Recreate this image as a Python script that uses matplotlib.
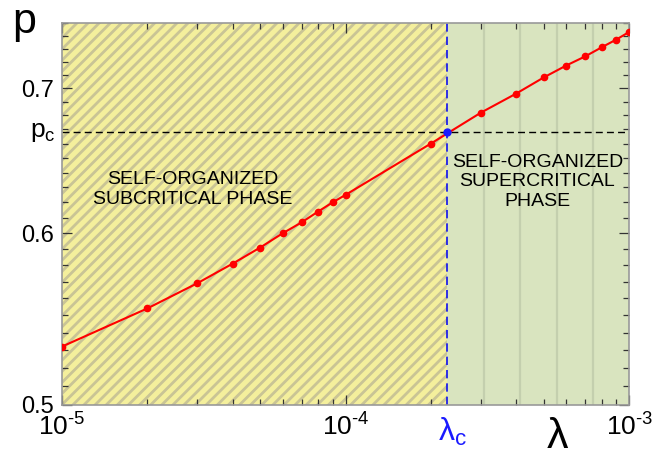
import matplotlib
matplotlib.use("Agg")
import matplotlib.pyplot as plt
import matplotlib.transforms as mtransforms
from matplotlib.ticker import FixedLocator, MultipleLocator, NullFormatter
import numpy as np

# order parameter p vs lambda, subcritical / supercritical phases
lam = [1e-5, 2e-5, 3e-5, 4e-5, 5e-5, 6e-5, 7e-5, 8e-5, 9e-5, 1e-4,
       2e-4, 3e-4, 4e-4, 5e-4, 6e-4, 7e-4, 8e-4, 9e-4, 1e-3]
p = [0.532, 0.554, 0.569, 0.581, 0.591, 0.600, 0.607, 0.614, 0.620, 0.625,
     0.660, 0.682, 0.696, 0.708, 0.717, 0.724, 0.731, 0.737, 0.743]
lam_c = 2.28e-4
p_c = 0.668
xticks = [1e-5, 1e-4, 1e-3]
xlabels = ['$10^{\u20105}$', '$10^{\u20104}$', '$10^{\u20103}$']
yticks = [0.5, 0.6, 0.7]
ylabels = ['0.5', '0.6', '0.7']

plt.rcParams['font.family'] = ['Liberation Sans', 'DejaVu Sans']
plt.rcParams['mathtext.fontset'] = 'custom'
plt.rcParams['mathtext.rm'] = 'Liberation Sans'
plt.rcParams['mathtext.it'] = 'Liberation Sans'
plt.rcParams['mathtext.default'] = 'regular'
plt.rcParams['hatch.linewidth'] = 2.0

fig = plt.figure(figsize=(6.54, 4.63), dpi=100)
ax = fig.add_axes([0.0948, 0.1253, 0.8672, 0.8247])
ax.set_xscale('log')
ax.set_yscale('log')
ax.set_xlim(1e-5, 1e-3)
ax.set_ylim(0.5, 0.75)

# background phases
ax.axvspan(1e-5, lam_c, facecolor='#f4ef9c', edgecolor='#c9c495',
           hatch='///', linewidth=0, zorder=0)
ax.axvspan(lam_c, 1e-3, facecolor='#d9e4bf', linewidth=0, zorder=0)
xc = np.log10(lam_c / 1e-5) / 2.0
for k in range(1, 5):
    ax.plot([xc + k * 0.0645] * 2, [0, 1], transform=ax.transAxes,
            color='#c4cfae', lw=1.6, zorder=0.5)

ax.axhline(p_c, color='k', ls=(0, (5, 3)), lw=1.0, zorder=2)
ax.axvline(lam_c, color='#1010ee', ls=(0, (5, 3)), lw=1.2, zorder=2)

ax.plot(lam, p, '-', color='#ff0000', lw=1.5, marker='o', ms=4.5, zorder=3)
ax.plot([lam_c], [p_c], 'o', color='#1a1aff', ms=5, zorder=4)

ax.text(0.231, 0.565, 'SELF-ORGANIZED\nSUBCRITICAL PHASE', transform=ax.transAxes,
        ha='center', va='center', fontsize=14, linespacing=1.2)
ax.text(0.838, 0.584, 'SELF-ORGANIZED\nSUPERCRITICAL\nPHASE', transform=ax.transAxes,
        ha='center', va='center', fontsize=14, linespacing=1.2)

# ticks
ax.xaxis.set_major_locator(FixedLocator(xticks))
ax.set_xticklabels(xlabels)
ax.yaxis.set_major_locator(FixedLocator(yticks))
ax.set_yticklabels(ylabels)
ax.yaxis.set_minor_locator(MultipleLocator(0.01))
ax.yaxis.set_minor_formatter(NullFormatter())
ax.xaxis.set_minor_formatter(NullFormatter())
ax.tick_params(which='both', direction='in', top=True, right=True, color='#333333')
ax.tick_params(which='major', length=7, width=0.9)
ax.tick_params(which='minor', length=4, width=0.9)
ax.tick_params(axis='x', labelsize=19, pad=6)
ax.tick_params(axis='y', labelsize=17, pad=6)
for s in ax.spines.values():
    s.set_color('#999999')
    s.set_linewidth(1.2)

bt = mtransforms.blended_transform_factory(ax.transData, ax.transAxes)
shift = mtransforms.ScaledTranslation(-9 / 100, 0, fig.dpi_scale_trans)
ax.text(lam_c, -0.028, r'$\lambda_c$', transform=bt + shift, color='#1a1aff',
        fontsize=23, ha='left', va='top')
bt2 = mtransforms.blended_transform_factory(ax.transAxes, ax.transData)
ax.text(-0.012, p_c, '$p_c$', transform=bt2, fontsize=19, ha='right', va='center')

fig.text(0.037, 0.929, 'p', fontsize=31, ha='center', va='baseline')
fig.text(0.852, 0.012, '\u03bb', fontsize=31, ha='center', va='bottom')

fig.savefig('out.png', dpi=100)
